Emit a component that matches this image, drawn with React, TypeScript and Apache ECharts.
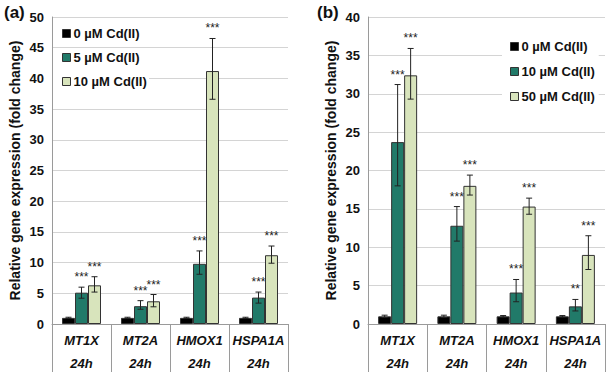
import React, { useEffect, useRef } from "react";
import * as echarts from "echarts";

const genes = ["MT1X", "MT2A", "HMOX1", "HSPA1A"];
const timeLabel = "24h";

// Panel (a)
const aNames = ["0 µM Cd(II)", "5 µM Cd(II)", "10 µM Cd(II)"];
const a0 = [1, 1, 1, 1];
const a0Lo = [0.9, 0.9, 0.9, 0.9];
const a0Hi = [1.1, 1.1, 1.1, 1.1];
const a5 = [5.1, 2.9, 9.8, 4.3];
const a5Lo = [4.2, 2.4, 8.1, 3.4];
const a5Hi = [6.0, 3.8, 11.9, 5.2];
const a10 = [6.3, 3.7, 41.2, 11.2];
const a10Lo = [5.2, 2.8, 36.6, 9.9];
const a10Hi = [7.7, 4.8, 46.5, 12.7];
const a5Stars = ["***", "***", "***", "***"];
const a10Stars = ["***", "***", "***", "***"];

// Panel (b)
const bNames = ["0 µM Cd(II)", "10 µM Cd(II)", "50 µM Cd(II)"];
const b0 = [1, 1, 1, 1];
const b0Lo = [0.85, 0.85, 0.9, 0.9];
const b0Hi = [1.15, 1.15, 1.1, 1.1];
const b10 = [23.7, 12.8, 4.1, 2.3];
const b10Lo = [18.0, 10.8, 2.9, 1.7];
const b10Hi = [31.2, 15.3, 5.8, 3.2];
const b50 = [32.4, 18.0, 15.3, 9.0];
const b50Lo = [29.3, 16.8, 14.3, 7.1];
const b50Hi = [35.9, 19.4, 16.4, 11.5];
const b10Stars = ["***", "***", "***", "**"];
const b50Stars = ["***", "***", "***", "***"];

const yTitle = "Relative gene expression (fold change)";
const FONT = "Liberation Sans, Arial, sans-serif";
const COLORS = ["#000000", "#217a69", "#d8e4bc"];
const BW = 13;

function buildErr(
  los: number[][],
  his: number[][],
  stars: (string[] | null)[]
) {
  const data: number[][] = [];
  const labels: string[] = [];
  for (let k = 0; k < 3; k++) {
    for (let i = 0; i < genes.length; i++) {
      data.push([i, los[k][i], his[k][i], k]);
      labels.push(stars[k] ? (stars[k] as string[])[i] : "");
    }
  }
  return { data, labels };
}

function errSeries(idx: number, err: { data: number[][]; labels: string[] }) {
  return {
    type: "custom",
    xAxisIndex: idx,
    yAxisIndex: idx,
    z: 5,
    data: err.data,
    renderItem: (params: any, api: any) => {
      const cat = api.value(0);
      const lo = api.value(1);
      const hi = api.value(2);
      const k = api.value(3);
      const pLo = api.coord([cat, lo]);
      const pHi = api.coord([cat, hi]);
      const x = pLo[0] + (k - 1) * BW;
      const style = { stroke: "#222", lineWidth: 1 };
      const children: any[] = [
        { type: "line", shape: { x1: x, y1: pLo[1], x2: x, y2: pHi[1] }, style },
        { type: "line", shape: { x1: x - 3, y1: pLo[1], x2: x + 3, y2: pLo[1] }, style },
        { type: "line", shape: { x1: x - 3, y1: pHi[1], x2: x + 3, y2: pHi[1] }, style },
      ];
      const s = err.labels[params.dataIndex];
      if (s) {
        children.push({
          type: "text",
          style: {
            text: s,
            x: x,
            y: pHi[1] - 4,
            textAlign: "center",
            textVerticalAlign: "bottom",
            fontSize: 12,
            fontFamily: FONT,
            fill: "#222222",
          },
        });
      }
      return { type: "group", children };
    },
  };
}

function barSeries(idx: number, name: string, data: number[], color: string) {
  return {
    type: "bar",
    name,
    xAxisIndex: idx,
    yAxisIndex: idx,
    data,
    barWidth: BW,
    barGap: "0%",
    itemStyle: { color, borderColor: "#333", borderWidth: 1 },
  };
}

export default function App() {
  const ref = useRef<HTMLDivElement>(null);
  useEffect(() => {
    if (!ref.current) return;
    const chart = echarts.init(ref.current, null, { renderer: "svg" });
    const errA = buildErr([a0Lo, a5Lo, a10Lo], [a0Hi, a5Hi, a10Hi], [null, a5Stars, a10Stars]);
    const errB = buildErr([b0Lo, b10Lo, b50Lo], [b0Hi, b10Hi, b50Hi], [null, b10Stars, b50Stars]);

    const xAxisCommon = {
      type: "category",
      data: genes,
      axisLine: { lineStyle: { color: "#9a9a9a" } },
      axisTick: { show: true, length: 48, lineStyle: { color: "#9a9a9a" } },
      axisLabel: {
        interval: 0,
        margin: 5,
        formatter: (v: string) => `{g|${v}}\n{g|${timeLabel}}`,
        rich: {
          g: {
            fontFamily: FONT,
            fontStyle: "italic",
            fontWeight: "bold",
            fontSize: 13,
            lineHeight: 23,
            color: "#111",
          },
        },
      },
    };
    const yAxisCommon = (max: number) => ({
      type: "value",
      min: 0,
      max,
      interval: 5,
      name: yTitle,
      nameLocation: "middle",
      nameGap: 30,
      nameTextStyle: { fontFamily: FONT, fontWeight: "bold", fontSize: 14, color: "#111" },
      axisLine: { show: true, lineStyle: { color: "#9a9a9a" } },
      axisTick: { show: false },
      axisLabel: { fontFamily: FONT, fontWeight: "bold", fontSize: 13, color: "#111", margin: 8 },
      splitLine: { lineStyle: { color: "#d4d4d4" } },
    });
    const legendCommon = {
      orient: "vertical",
      icon: "rect",
      itemWidth: 8,
      itemHeight: 8,
      itemGap: 11,
      selectedMode: false,
      textStyle: { fontFamily: FONT, fontWeight: "bold", fontSize: 13, color: "#111", padding: [0, 0, 0, -2] },
    };
    const legendData = (names: string[]) =>
      names.map((n, i) => ({
        name: n,
        itemStyle: { color: COLORS[i], borderColor: "#333", borderWidth: 1 },
      }));

    chart.setOption({
      animation: false,
      backgroundColor: "#ffffff",
      grid: [
        { left: 52, top: 17, width: 236, height: 307 },
        { left: 368, top: 17, width: 237, height: 307 },
      ],
      xAxis: [
        { ...xAxisCommon, gridIndex: 0 },
        { ...xAxisCommon, gridIndex: 1 },
      ],
      yAxis: [
        { ...yAxisCommon(50), gridIndex: 0 },
        { ...yAxisCommon(40), gridIndex: 1 },
      ],
      legend: [
        { ...legendCommon, data: legendData(aNames), left: 57, top: 22 },
        {
          ...legendCommon,
          itemGap: 12,
          data: legendData(bNames),
          left: 502,
          top: 35,
          padding: [5, 4, 6, 8],
          backgroundColor: "#ffffff",
        },
      ],
      series: [
        barSeries(0, aNames[0], a0, COLORS[0]),
        barSeries(0, aNames[1], a5, COLORS[1]),
        barSeries(0, aNames[2], a10, COLORS[2]),
        errSeries(0, errA),
        barSeries(1, bNames[0], b0, COLORS[0]),
        barSeries(1, bNames[1], b10, COLORS[1]),
        barSeries(1, bNames[2], b50, COLORS[2]),
        errSeries(1, errB),
      ],
      graphic: [
        {
          type: "rect",
          z: 1,
          shape: { x: 53, y: 70, width: 96, height: 20 },
          style: { fill: "#ffffff" },
        },
        {
          type: "text",
          left: 4,
          top: 4,
          style: { text: "(a)", fontFamily: FONT, fontWeight: "bold", fontSize: 17, fill: "#111" },
        },
        {
          type: "text",
          left: 317,
          top: 4,
          style: { text: "(b)", fontFamily: FONT, fontWeight: "bold", fontSize: 17, fill: "#111" },
        },
      ],
    });
    return () => chart.dispose();
  }, []);
  return <div ref={ref} style={{ width: 609, height: 376, position: "absolute", left: 0, top: 0 }} />;
}
